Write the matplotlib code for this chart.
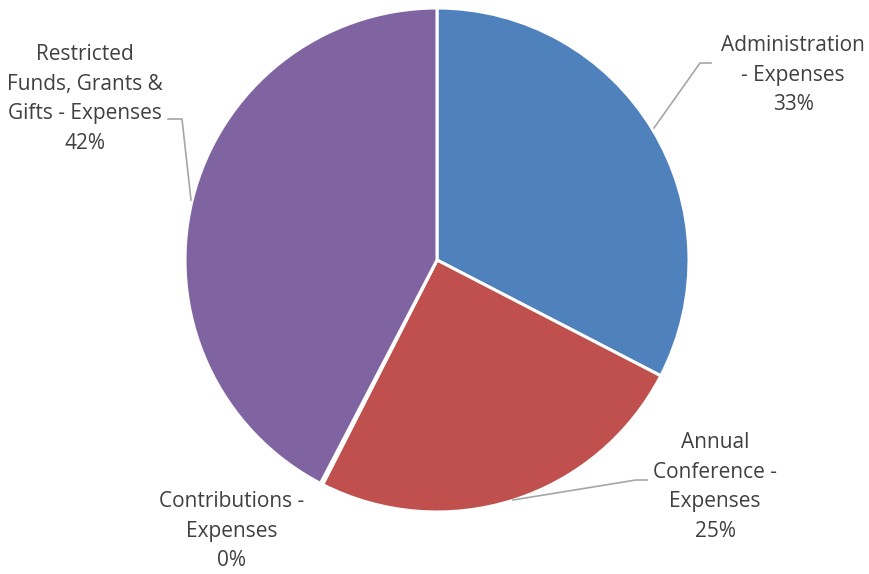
import matplotlib
matplotlib.use("Agg")
import matplotlib.pyplot as plt

labels = ["Administration\n- Expenses", "Annual\nConference -\nExpenses",
          "Contributions -\nExpenses", "Restricted\nFunds, Grants &\nGifts - Expenses"]
pct_labels = ["33%", "25%", "0%", "42%"]
values = [32.6, 24.9, 0.15, 42.35]
colors = ["#4F81BD", "#C0504D", "#9BBB59", "#8064A2"]

W, H = 869, 574
fig = plt.figure(figsize=(W / 100, H / 100), dpi=100)
ax = fig.add_axes([0, 0, 1, 1])

ax.pie(values, colors=colors, startangle=90, counterclock=False,
       center=(437, -260), radius=252,
       wedgeprops=dict(edgecolor="white", linewidth=2.2))
ax.set_xlim(0, W)
ax.set_ylim(-H, 0)
ax.set_aspect("equal")
ax.axis("off")

text_kw = dict(fontsize=15, color="#404040", ha="center", va="center",
               family=["Open Sans", "DejaVu Sans"], linespacing=1.56)

# label positions (centers) and leader lines in pixel coords
label_pos = [(793, -75), (715, -487), (232, -531), (85, -99)]
leaders = [
    [(654, -128), (700, -63), (711, -63)],
    [(513, -500), (636, -480), (647, -480)],
    None,
    [(191, -200), (182, -119), (168, -119)],
]
for lab, pct, pos, ld in zip(labels, pct_labels, label_pos, leaders):
    ax.text(pos[0], pos[1], lab + "\n" + pct, **text_kw)
    if ld:
        xs, ys = zip(*ld)
        ax.plot(xs, ys, color="#A6A6A6", lw=1.2)

fig.savefig("out.png", dpi=100)
